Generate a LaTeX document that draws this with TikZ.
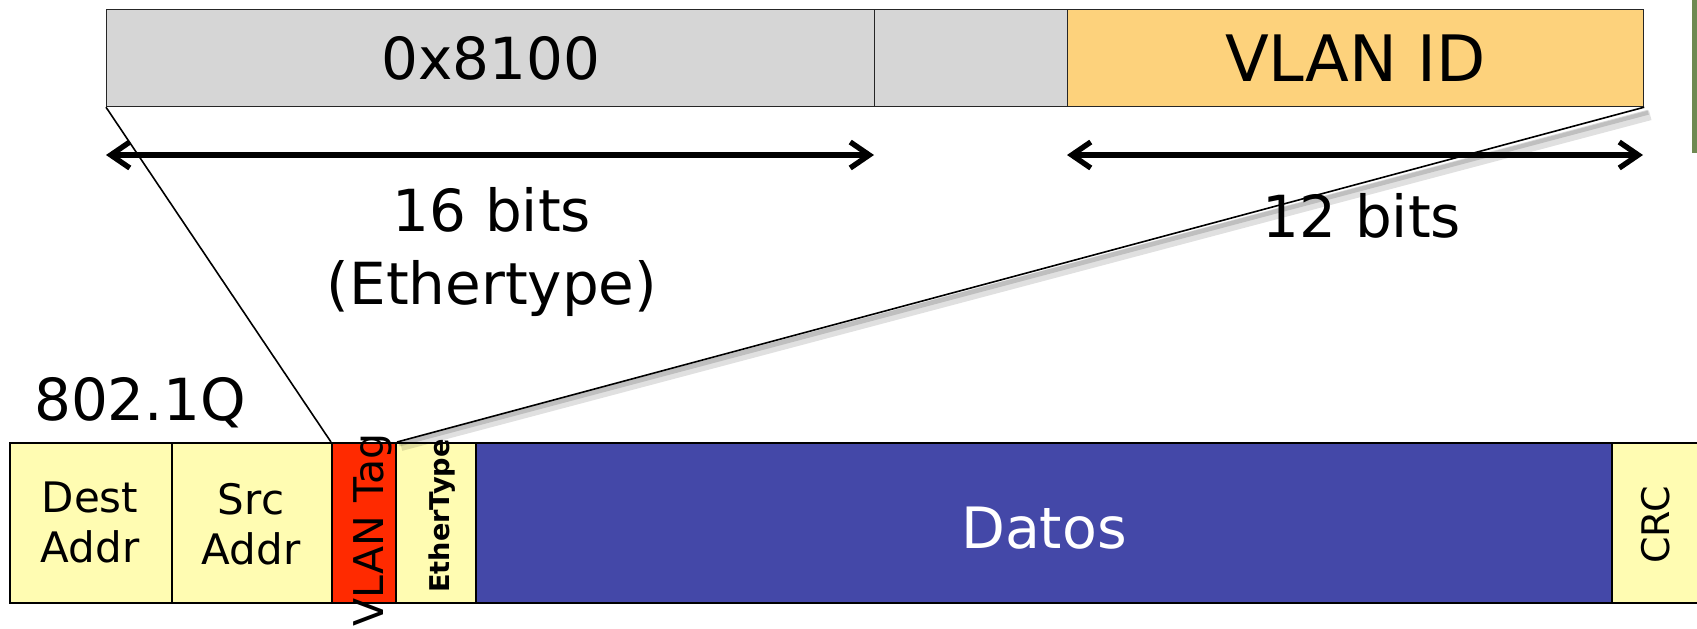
\documentclass[tikz,border=0pt]{standalone}
\usepackage{fontspec}
\setmainfont{DejaVu Sans}
\usetikzlibrary{arrows.meta}
\definecolor{gfill}{HTML}{D6D6D6}
\definecolor{ofill}{HTML}{FDD27C}
\definecolor{yfill}{HTML}{FFFCB2}
\definecolor{rfill}{HTML}{FF2A00}
\definecolor{bfill}{HTML}{4448A8}
\definecolor{gstrip}{HTML}{6F8A52}
\begin{document}
\begin{tikzpicture}[x=0.5pt,y=-0.5pt,
  topbox/.style={draw=black!85, line width=0.6pt, anchor=north west, minimum height=48.5pt, inner sep=0pt, font=\fontsize{29}{35}\selectfont},
  fieldbox/.style={draw=black, line width=1pt, anchor=north west, minimum height=80pt, inner sep=0pt, fill=yfill},
  bigtxt/.style={font=\fontsize{29}{36.5}\selectfont, align=center, inner sep=0pt},
  smalltxt/.style={font=\fontsize{21}{25}\selectfont, align=center, inner sep=0pt},
  arr/.style={{Straight Barb[length=9.5pt,width=13pt]}-{Straight Barb[length=9.5pt,width=13pt]}, line width=2.7pt},
  zoomline/.style={line width=0.8pt, black}
]
\useasboundingbox (0,0) rectangle (1697,628);
% green strip at the far right
\fill[gstrip] (1692,0) rectangle (1697,153);
% top enlarged tag
\node[topbox, fill=gfill, minimum width=384pt] (eth16) at (106,9) {0x8100};
\node[topbox, fill=gfill, minimum width=96.5pt] (mid) at (874,9) {};
\node[topbox, fill=ofill, minimum width=288pt, font=\fontsize{32}{36}\selectfont] (vid) at (1067,9) {VLAN ID};
% bottom frame
\node[fieldbox, minimum width=81pt] (dest) at (9,442) {};
\node[fieldbox, minimum width=80pt] (src) at (171,442) {};
\node[fieldbox, fill=rfill, minimum width=32pt] (vlan) at (331,442) {};
\node[fieldbox, minimum width=40pt] (etype) at (395,442) {};
\node[fieldbox, fill=bfill, minimum width=568pt] (datos) at (475,442) {};
\node[fieldbox, minimum width=50pt] (crc) at (1611,442) {};
% texts in bottom frame
\node[smalltxt] (destt) at (90,522) {Dest\\Addr};
\node[smalltxt] (srct) at (251,524) {Src\\Addr};
\node[font=\fontsize{20.5}{24}\selectfont, rotate=90, inner sep=0pt] (vlant) at (373,530) {VLAN Tag};
\node[font=\fontsize{13.6}{16}\selectfont\bfseries, rotate=90, inner sep=0pt] (etypet) at (442,516) {EtherType};
\node[font=\fontsize{28.5}{34}\selectfont, text=white, inner sep=0pt] (datost) at (1044,528) {Datos};
\node[font=\fontsize{19}{22}\selectfont, rotate=90, inner sep=0pt] (crct) at (1656,525) {CRC};
% labels
\node[bigtxt] (lab16) at (492,252) {16 bits\\(Ethertype)};
\node[bigtxt] (lab12) at (1362,216) {12 bits};
\node[bigtxt] (lab8021q) at (140,403) {802.1Q};
% zoom lines
\draw[line width=5pt, black, opacity=0.12] ([xshift=3pt,yshift=-4pt]vid.south east) -- ([xshift=2pt,yshift=-2pt]vlan.north east);
\draw[line width=2.5pt, black, opacity=0.15] ([xshift=2pt,yshift=-2.5pt]vid.south east) -- ([xshift=1pt,yshift=-1pt]vlan.north east);
\draw[zoomline] (eth16.south west) -- (vlan.north west);
\draw[zoomline] (vid.south east) -- (vlan.north east);
% dimension arrows
\coordinate (a1l) at (106,155);
\coordinate (a1r) at (874,155);
\coordinate (a2l) at (1067,155);
\coordinate (a2r) at (1643,155);
\draw[arr] (a1l) -- (a1r);
\draw[arr] (a2l) -- (a2r);
\end{tikzpicture}
\end{document}
